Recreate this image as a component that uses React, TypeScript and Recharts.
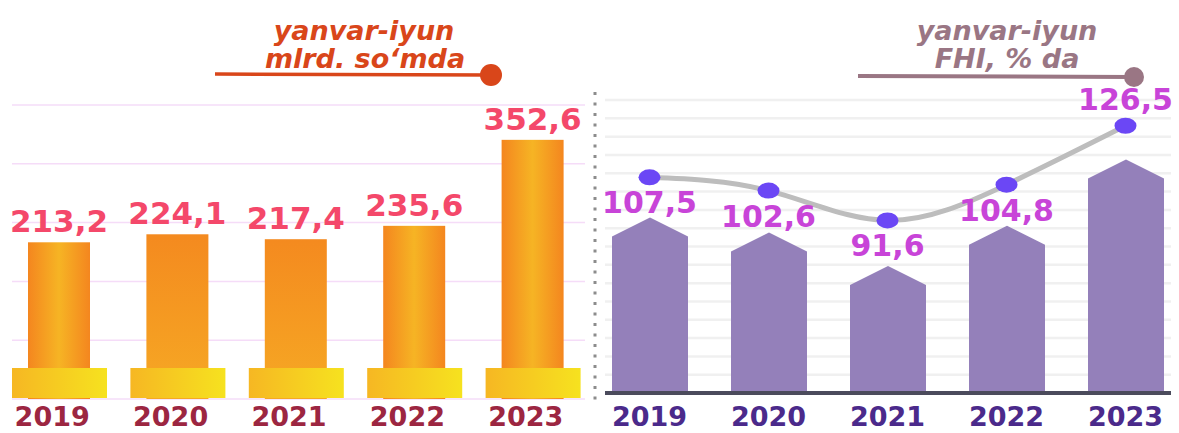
import React from 'react';
import { ComposedChart, Bar, Line, XAxis, YAxis, CartesianGrid, LabelList } from 'recharts';

const years = ['2019', '2020', '2021', '2022', '2023'];
const volume = [213.2, 224.1, 217.4, 235.6, 352.6];
const fhiShare = [107.5, 102.6, 91.6, 104.8, 126.5];
const leftTicks = [0, 80, 160, 240, 320, 400];
const rightTicks = [50, 56, 62, 68, 74, 80, 86, 92, 98, 104, 110, 116, 122, 128, 134, 140, 146];

const leftData = years.map((year, i) => ({ year, value: volume[i] }));
const rightData = years.map((year, i) => ({ year, value: fhiShare[i] }));

// which gradient each orange column uses
const columnFills = ['url(#hgrad)', 'url(#vgrad)', 'url(#vgrad)', 'url(#hgrad)', 'url(#hgrad)'];

const num = (v: number) => String(v).replace('.', ',');
const FONT = '"DejaVu Sans", sans-serif';

const YearTick = (color: string, dx: number, dy: number) => (props: any) => (
  <text
    x={props.x + dx}
    y={props.y + dy}
    textAnchor="middle"
    fill={color}
    fontFamily={FONT}
    fontWeight="bold"
    fontSize={27}
  >
    {props.payload.value}
  </text>
);

const Column = (props: any) => {
  const { x, y, width, height, index } = props;
  const bottom = y + height;
  return (
    <g>
      <rect x={x} y={y} width={width} height={height} fill={columnFills[index]} />
      <rect x={x - 16} y={bottom - 31} width={width + 33} height={30} fill="url(#pedestal)" />
    </g>
  );
};

const House = (props: any) => {
  const { x, y, width, height } = props;
  const drop = width * 0.25;
  const bottom = y + height;
  const d = `M${x},${bottom} L${x},${y + drop} L${x + width / 2},${y} L${x + width},${y + drop} L${x + width},${bottom} Z`;
  return <path d={d} fill="#9480ba" />;
};

const Marker = (props: any) => {
  const { cx, cy } = props;
  return <ellipse cx={cx} cy={cy} rx={11} ry={8} fill="#6b47f5" />;
};

const FhiLabel = (props: any) => {
  const { x, y, value, index } = props;
  const ty = index === years.length - 1 ? y - 16 : y + 36;
  return (
    <text x={x} y={ty} textAnchor="middle" fill="#c844d8" fontFamily={FONT} fontWeight="bold" fontSize={30}>
      {num(value)}
    </text>
  );
};

export default function App() {
  return (
    <div style={{ position: 'absolute', left: 0, top: 0, width: 1179, height: 433, overflow: 'hidden', background: '#fff' }}>
      <div style={{ position: 'absolute', left: 0, top: 0 }}>
        <ComposedChart width={592} height={433} data={leftData} margin={{ top: 105, right: 7, bottom: 0, left: 12 }}>
          <defs>
            <linearGradient id="hgrad" x1="0" y1="0" x2="1" y2="0">
              <stop offset="0%" stopColor="#f4861f" />
              <stop offset="50%" stopColor="#f6b424" />
              <stop offset="100%" stopColor="#f4861f" />
            </linearGradient>
            <linearGradient id="vgrad" x1="0" y1="0" x2="0" y2="1">
              <stop offset="0%" stopColor="#f48a1f" />
              <stop offset="100%" stopColor="#f6a924" />
            </linearGradient>
            <linearGradient id="pedestal" x1="0" y1="0" x2="1" y2="0">
              <stop offset="0%" stopColor="#f6b723" />
              <stop offset="100%" stopColor="#f6e21f" />
            </linearGradient>
          </defs>
          <CartesianGrid vertical={false} stroke="#f5dcf8" strokeWidth={1.5} />
          <XAxis
            dataKey="year"
            axisLine={false}
            tickLine={false}
            tickSize={0}
            tickMargin={0}
            height={34}
            padding={{ left: -12, right: -7 }}
            tick={YearTick('#9c2641', -7, 27)}
            interval={0}
          />
          <YAxis hide domain={[0, 400]} ticks={leftTicks} interval={0} />
          <Bar dataKey="value" barSize={62} shape={<Column />} isAnimationActive={false}>
            <LabelList
              dataKey="value"
              position="top"
              offset={10}
              formatter={(v: any) => num(v)}
              fill="#f4486a"
              fontFamily={FONT}
              fontWeight="bold"
              fontSize={31}
            />
          </Bar>
        </ComposedChart>
      </div>

      <div style={{ position: 'absolute', left: 590, top: 0 }}>
        <ComposedChart width={595} height={433} data={rightData} margin={{ top: 100, right: 14, bottom: 0, left: 15 }}>
          <CartesianGrid vertical={false} stroke="#f0f0f0" strokeWidth={2.5} />
          <XAxis
            dataKey="year"
            axisLine={{ stroke: '#4b4b5c', strokeWidth: 4 }}
            tickLine={false}
            tickSize={0}
            tickMargin={0}
            height={40}
            padding={{ left: -15, right: -14 }}
            tick={YearTick('#4b2a8b', 0, 33)}
            interval={0}
          />
          <YAxis hide domain={[50, 146]} ticks={rightTicks} interval={0} />
          <YAxis hide yAxisId="line" domain={[28, 136]} />
          <Bar dataKey="value" barSize={76} shape={<House />} isAnimationActive={false} />
          <Line
            yAxisId="line"
            dataKey="value"
            type="natural"
            stroke="#bdbdbd"
            strokeWidth={5}
            dot={<Marker />}
            activeDot={false}
            isAnimationActive={false}
          >
            <LabelList dataKey="value" content={<FhiLabel />} />
          </Line>
        </ComposedChart>
      </div>

      <svg width={1179} height={433} style={{ position: 'absolute', left: 0, top: 0, pointerEvents: 'none' }}>
        <g fontFamily={FONT} fontWeight="bold" fontStyle="italic" fontSize={27} textAnchor="middle">
          <text x={364} y={40} fill="#d9461a">yanvar-iyun</text>
          <text x={365} y={68} fill="#d9461a">mlrd. so‘mda</text>
          <text x={1007} y={40} fill="#9a7684">yanvar-iyun</text>
          <text x={1007} y={68} fill="#9a7684">FHI, % da</text>
        </g>
        <line x1={215} y1={74} x2={490} y2={75} stroke="#d9461a" strokeWidth={3.5} />
        <circle cx={491} cy={75} r={11} fill="#d9461a" />
        <line x1={858} y1={76} x2={1133} y2={77} stroke="#9a7684" strokeWidth={4} />
        <circle cx={1134} cy={77} r={10} fill="#9a7684" />
        <line x1={595} y1={92} x2={595} y2={404} stroke="#8c8c8c" strokeWidth={3} strokeDasharray="3 7.5" />
      </svg>
    </div>
  );
}
